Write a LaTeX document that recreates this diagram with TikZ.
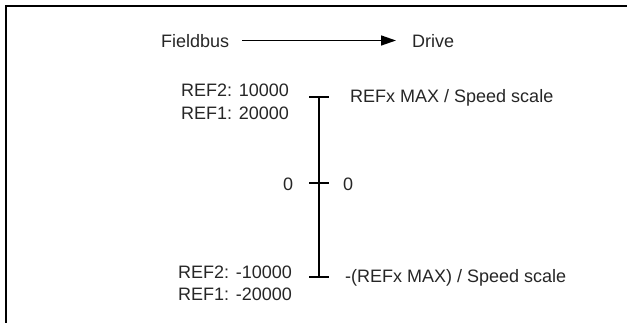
\documentclass[tikz,border=0pt]{standalone}
\usepackage{fontspec}
\setmainfont{Liberation Sans}
\usetikzlibrary{arrows.meta}
\begin{document}
\begin{tikzpicture}[x=1pt,y=-1pt,
  lbl/.style={inner sep=0pt,font=\fontsize{18}{20}\selectfont,text=black!85},
  frameline/.style={line width=2pt,line cap=rect},
  axis/.style={line width=1.8pt}]
\useasboundingbox (0,0) rectangle (627,323);
% frame (top and left edges only)
\coordinate (ftl) at (6,6);
\coordinate (ftr) at (628,6);
\coordinate (fbl) at (6,324);
\draw[frameline] (ftr) -- (ftl) -- (fbl);
% header
\node[lbl,anchor=base west] (fb) at (161,47.5) {Fieldbus};
\node[lbl,anchor=base west] (dr) at (412,47.5) {Drive};
\coordinate (a1) at (242,40.5);
\coordinate (a2) at (396,40.5);
\draw[line width=1.5pt,-{Triangle[length=15pt,width=10pt]}] (a1) -- (a2);
% scale axis
\coordinate (ttop) at (319,97);
\coordinate (tmid) at (319,183);
\coordinate (tbot) at (319,277);
\draw[axis] (ttop) -- (tbot);
\draw[axis] ([xshift=-10pt]ttop) -- ([xshift=10pt]ttop);
\draw[axis] ([xshift=-10pt]tmid) -- ([xshift=10pt]tmid);
\draw[axis] ([xshift=-10pt]tbot) -- ([xshift=10pt]tbot);
% labels
\node[lbl,anchor=base west] (r2p) at (181,96.5) {REF2: 10000};
\node[lbl,anchor=base west] (r1p) at (181,119.5) {REF1: 20000};
\node[lbl,anchor=base west] (mx) at (350,103) {REFx MAX / Speed scale};
\node[lbl,anchor=base west] (z1) at (283,190.5) {0};
\node[lbl,anchor=base west] (z2) at (343,190.5) {0};
\node[lbl,anchor=base west] (r2n) at (178,278.5) {REF2: -10000};
\node[lbl,anchor=base west] (r1n) at (178,300.5) {REF1: -20000};
\node[lbl,anchor=base west] (mn) at (345,283) {-(REFx MAX) / Speed scale};
\end{tikzpicture}
\end{document}
